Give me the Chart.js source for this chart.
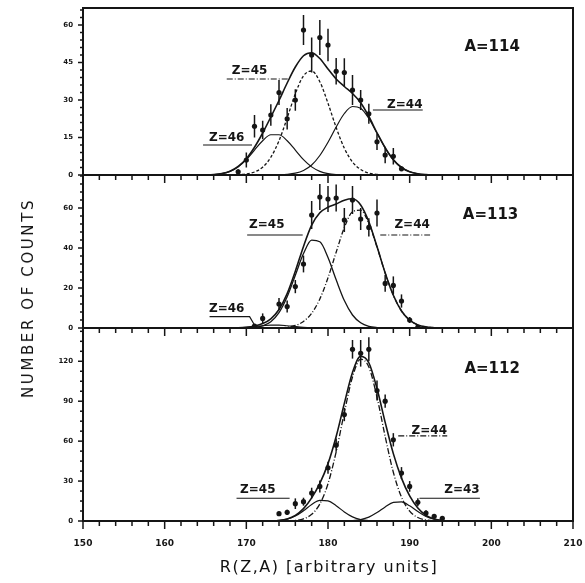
<!DOCTYPE html>
<html>
<head>
<meta charset="utf-8">
<script src="https://cdn.jsdelivr.net/npm/chart.js@4"></script>
<style>
  body { margin: 0; background: #fff; }
  #wrap { position: relative; width: 585px; height: 583px; }
  canvas { position: absolute; left: 0; top: 0; }
  #ytitle {
    position: absolute; left: 28px; top: 298px;
    transform: translate(-50%, -50%) rotate(-90deg);
    font: 15px "DejaVu Sans", sans-serif; letter-spacing: 2.6px;
    white-space: nowrap; color: #111;
  }
  #xtitle {
    position: absolute; left: 329px; top: 566px;
    transform: translate(-50%, -50%);
    font: 16px "DejaVu Sans", sans-serif; letter-spacing: 1.5px;
    white-space: nowrap; color: #111;
  }
</style>
</head>
<body>
<div id="wrap">
  <canvas id="c114" width="585" height="583"></canvas>
  <canvas id="c113" width="585" height="583"></canvas>
  <canvas id="c112" width="585" height="583"></canvas>
  <div id="ytitle">NUMBER OF COUNTS</div>
  <div id="xtitle">R(Z,A) [arbitrary units]</div>
</div>
<script>
// ---- A = 114 ----
const r114 = [164,165,166,167,168,169,170,171,172,173,174,175,176,177,178,179,180,181,182,183,184,185,186,187,188,189,190,191,192,193];
const total114 = [0,0.05,0.18,0.56,1.5,3.4,6.5,11.1,16.8,23.2,29.8,36.8,43.2,47.7,48.9,46.6,42.4,38.4,35.4,32.6,28.9,23.4,16.9,10.9,6.1,3.0,1.3,0.5,0.16,0];
const z46_114 = [0,0.05,0.18,0.56,1.46,3.25,6.15,9.95,13.7,16.1,16.1,13.7,9.95,6.15,3.25,1.46,0.56,0.18,0.05,0,null,null,null,null,null,null,null,null,null,null];
const z45_114 = [null,null,null,0,0.03,0.11,0.39,1.19,3.13,7.1,13.7,22.8,32.5,39.7,41.6,37.3,28.7,19.0,10.7,5.2,2.2,0.77,0.24,0.06,0,null,null,null,null,null];
const z44_114 = [null,null,null,null,null,null,null,null,null,0,0.07,0.25,0.72,1.82,4.0,7.8,13.1,19.2,24.6,27.4,26.7,22.6,16.7,10.8,6.1,2.97,1.28,0.48,0.16,0.04];
const rPts114 = [169,170,171,172,173,174,175,176,177,178,179,180,181,182,183,184,185,186,187,188,189];
const counts114 = [1.3,6,19.5,18,24,33,22.5,30,58,48,55,52,41.5,41,34,30,24.5,13.3,8,7.5,2.5];
const err114 = [1,3,4.5,3.7,4.3,5,4.3,4.3,6,7,7,6.5,5.3,5.7,6,4,4,3.3,3.3,3.3,1];

// ---- A = 113 ----
const r113 = [167,168,169,170,171,172,173,174,175,176,177,178,179,180,181,182,183,184,185,186,187,188,189,190,191,192,193,194];
const total113 = [0,0.05,0.12,0.39,1.0,2.2,4.6,9.25,17.2,28.4,40.8,51.4,57.6,60.4,62.0,63.9,64.6,61.5,53.1,40.7,27.55,16.4,8.5,3.9,1.55,0.54,0.16,0];
const z46_113 = [0,0.03,0.12,0.32,0.69,1.13,1.46,1.46,1.13,0.69,0.32,0.12,0.04,0,null,null,null,null,null,null,null,null,null,null,null,null,null,null];
const z45_113 = [null,null,0,0.07,0.31,1.08,3.14,7.66,15.6,26.4,37.2,43.9,43.1,35.3,24.1,13.7,6.5,2.6,0.85,0.23,0.05,0,null,null,null,null,null,null];
const z44_113 = [null,null,null,null,null,null,0.03,0.13,0.43,1.27,3.27,7.35,14.5,25.1,37.9,50.2,58.1,58.9,52.2,40.5,27.5,16.4,8.5,3.9,1.55,0.54,0.16,0.04];
const rPts113 = [171,172,174,175,176,177,178,179,180,181,182,183,184,185,186,187,188,189,190,191];
const counts113 = [1.0,4.8,12,10.7,20.7,32,56.5,65.5,64.5,65,54,64,54.5,50.3,57.5,22.3,21.3,13.5,4,0.5];
const err113 = [0.8,2.5,3,3,3.3,4.2,7,6.5,6.5,6.7,6,7,5.5,4.6,6.7,4.2,4.5,3.3,1.5,0.5];

// ---- A = 112 ----
const r112 = [171,172,173,174,175,176,177,178,179,180,181,182,183,184,185,186,187,188,189,190,191,192,193,194,195,196,197];
const total112 = [0,0,0.09,0.41,1.5,4.17,9.3,17.4,28.3,43.1,63.5,88.4,111.6,123.8,118.9,99.5,74.1,50.6,32.2,18.8,9.7,4.2,1.5,0.4,0.09,0,0];
const z45_112 = [null,0,0.09,0.41,1.41,3.72,7.69,12.4,15.5,15.1,11.5,6.8,3.1,1.12,0.31,0.07,0,null,null,null,null,null,null,null,null,null,null];
const z44_112 = [null,null,null,null,0.1,0.45,1.6,5.0,12.8,28.0,52.0,81.5,108.2,121.6,115.7,93.1,63.5,36.6,17.9,7.4,2.6,0.77,0.2,0.04,null,null,null];
const z43_112 = [null,null,null,null,null,null,null,null,null,null,null,0.06,0.29,1.04,2.9,6.3,10.6,14.0,14.3,11.4,7.1,3.4,1.3,0.38,0.09,0,null];
const rPts112 = [174,175,176,177,178,179,180,181,182,183,184,185,186,187,188,189,190,191,192,193,194];
const counts112 = [5.5,6.5,13,14.5,21,26,40,57,80,129,126,129,98,90,61,36,26,14,6,3.5,2];
const err112 = [1.5,2,4,3,4,4.5,4.5,5,5,7,10,9,7.5,5,5,4.5,4,3,2,1.5,1];

const ink = '#151515';

function xy(xs, ys) {
  return xs.map((x, i) => ({ x: x, y: ys[i] }));
}

function curve(xs, ys, width, dash) {
  return {
    data: xy(xs, ys),
    borderColor: ink,
    borderWidth: width,
    borderDash: dash || [],
    pointRadius: 0,
    cubicInterpolationMode: 'monotone',
    fill: false
  };
}

// frame, tick marks, error bars and curve labels
const panelPlugin = {
  id: 'panel',
  afterDatasetsDraw(chart, args, opts) {
    const { ctx, chartArea: a } = chart;
    const x = chart.scales.x, y = chart.scales.y;
    ctx.save();
    ctx.strokeStyle = ink;
    ctx.fillStyle = ink;

    // error bars
    ctx.lineWidth = 1.5;
    opts.xs.forEach((r, i) => {
      const px = x.getPixelForValue(r);
      const top = y.getPixelForValue(opts.ys[i] + opts.err[i]);
      const bot = y.getPixelForValue(Math.max(0, opts.ys[i] - opts.err[i]));
      ctx.beginPath();
      ctx.moveTo(px, top);
      ctx.lineTo(px, bot);
      ctx.stroke();
    });

    // frame
    ctx.lineWidth = 2;
    ctx.strokeRect(a.left, a.top, a.right - a.left, a.bottom - a.top);

    // x tick marks hanging below the panel
    ctx.lineWidth = 1.5;
    x.ticks.forEach(t => {
      const px = x.getPixelForValue(t.value);
      const len = t.value % 10 === 0 ? 8 : 5;
      ctx.beginPath();
      ctx.moveTo(px, a.bottom);
      ctx.lineTo(px, a.bottom + len);
      ctx.stroke();
    });

    // y tick marks on the left
    y.ticks.forEach(t => {
      const py = y.getPixelForValue(t.value);
      const len = t.value % opts.major === 0 ? 5 : 3;
      ctx.beginPath();
      ctx.moveTo(a.left, py);
      ctx.lineTo(a.left - len, py);
      ctx.stroke();
    });

    // labels
    ctx.textAlign = 'center';
    ctx.textBaseline = 'middle';
    opts.labels.forEach(l => {
      ctx.font = l.big ? 'bold 15px "DejaVu Sans"' : 'bold 12px "DejaVu Sans"';
      ctx.fillText(l.text, x.getPixelForValue(l.x), y.getPixelForValue(l.y));
      if (l.line) {
        ctx.lineWidth = 1.2;
        ctx.setLineDash(l.dash || []);
        ctx.beginPath();
        l.line.forEach((p, k) => {
          const px = x.getPixelForValue(p[0]), py = y.getPixelForValue(p[1]);
          if (k === 0) ctx.moveTo(px, py); else ctx.lineTo(px, py);
        });
        ctx.stroke();
        ctx.setLineDash([]);
      }
    });
    ctx.restore();
  }
};

function makePanel(id, p) {
  return new Chart(document.getElementById(id), {
    type: 'line',
    data: {
      datasets: [{
        data: xy(p.xs, p.ys),
        showLine: false,
        pointRadius: 2.6,
        pointBackgroundColor: ink,
        pointBorderColor: ink,
        pointBorderWidth: 0
      }].concat(p.curves)
    },
    options: {
      responsive: false,
      animation: false,
      layout: { padding: { top: p.top, bottom: p.bottom, left: 0, right: 12 } },
      plugins: {
        legend: { display: false },
        tooltip: { enabled: false },
        panel: { xs: p.xs, ys: p.ys, err: p.err, major: p.major, labels: p.labels }
      },
      scales: {
        x: {
          type: 'linear', min: 150, max: 210,
          grid: { display: false, drawTicks: false },
          border: { display: false },
          ticks: {
            display: p.showX, stepSize: 2, autoSkip: false, maxRotation: 0,
            includeBounds: false, padding: 17, color: ink,
            font: { family: 'DejaVu Sans', size: 9, weight: 'bold' },
            callback: v => (v % 10 === 0 ? v : '')
          },
          afterFit: s => {
            s.height = p.xHeight;
            s.paddingLeft = 0; s.paddingRight = 0;
          }
        },
        y: {
          min: 0, max: p.max,
          grid: { display: false, drawTicks: false },
          border: { display: false },
          ticks: {
            stepSize: p.minor, autoSkip: false, includeBounds: false,
            padding: 10, color: ink,
            font: { family: 'DejaVu Sans', size: 7, weight: 'bold' },
            callback: v => (v % p.major === 0 ? v : '')
          },
          afterFit: s => {
            s.width = 83;
            s.paddingTop = 0; s.paddingBottom = 0;
          }
        }
      }
    },
    plugins: [panelPlugin]
  });
}

makePanel('c114', {
  xs: rPts114, ys: counts114, err: err114,
  max: 66.8, major: 15, minor: 3, top: 8, bottom: 408, xHeight: 0, showX: false,
  curves: [
    curve(r114, total114, 1.6),
    curve(r114, z46_114, 1.2),
    curve(r114, z45_114, 1.3, [3, 2]),
    curve(r114, z44_114, 1.2)
  ],
  labels: [
    { text: 'A=114', x: 200.1, y: 51.2, big: true },
    { text: 'Z=45', x: 170.4, y: 41.5, line: [[167.6, 38.4], [175.3, 38.4]], dash: [6, 2, 1, 2] },
    { text: 'Z=46', x: 167.6, y: 14.8, line: [[164.7, 12], [170.7, 12]] },
    { text: 'Z=44', x: 189.4, y: 28.2, line: [[185.5, 26], [191.6, 26]] }
  ]
});

makePanel('c113', {
  xs: rPts113, ys: counts113, err: err113,
  max: 76.5, major: 20, minor: 4, top: 175, bottom: 255, xHeight: 0, showX: false,
  curves: [
    curve(r113, total113, 1.6),
    curve(r113, z46_113, 1.2),
    curve(r113, z45_113, 1.3),
    curve(r113, z44_113, 1.3, [5, 2, 1, 2])
  ],
  labels: [
    { text: 'A=113', x: 199.9, y: 56.5, big: true },
    { text: 'Z=45', x: 172.5, y: 51.5, line: [[170.1, 46.5], [176.9, 46.5]] },
    { text: 'Z=44', x: 190.3, y: 51.5, line: [[186.4, 46.5], [192.5, 46.5]], dash: [6, 2, 1, 2] },
    { text: 'Z=46', x: 167.6, y: 9.5, line: [[165.5, 5.7], [170.4, 5.7], [171, 1.5]] }
  ]
});

makePanel('c112', {
  xs: rPts112, ys: counts112, err: err112,
  max: 145, major: 30, minor: 7.5, top: 328, bottom: 0, xHeight: 62, showX: true,
  curves: [
    curve(r112, total112, 1.6),
    curve(r112, z45_112, 1.2),
    curve(r112, z44_112, 1.3, [6, 2, 1, 2]),
    curve(r112, z43_112, 1.2)
  ],
  labels: [
    { text: 'A=112', x: 200.1, y: 114, big: true },
    { text: 'Z=44', x: 192.4, y: 68, line: [[188.6, 64], [194.6, 64]], dash: [6, 2, 1, 2] },
    { text: 'Z=45', x: 171.4, y: 23.4, line: [[168.8, 17.1], [175.3, 17.1]] },
    { text: 'Z=43', x: 196.4, y: 23.4, line: [[191.2, 17.1], [198.6, 17.1]] }
  ]
});
</script>
</body>
</html>
